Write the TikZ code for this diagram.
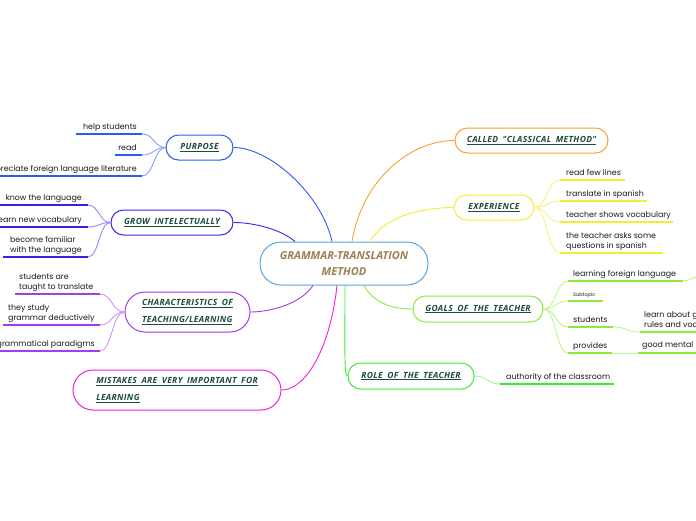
\documentclass[tikz,border=0pt]{standalone}
\usepackage{fontspec}
\setmainfont{Poppins}
\newfontfamily\topicfont[LetterSpace=4,WordSpace=1.8]{Open Sans}
\newfontfamily\centerfont{Open Sans}
\usetikzlibrary{calc}
\definecolor{cblue}{HTML}{2A5CF0}
\definecolor{cbluel}{HTML}{82A3F7}
\definecolor{cindigo}{HTML}{3C22E6}
\definecolor{cindigol}{HTML}{9A8AF2}
\definecolor{cpurple}{HTML}{A63CE6}
\definecolor{cpurplel}{HTML}{CE98F2}
\definecolor{cmag}{HTML}{F020D8}
\definecolor{corange}{HTML}{F8A232}
\definecolor{cyellow}{HTML}{F2EE30}
\definecolor{cyellowl}{HTML}{F6F385}
\definecolor{clime}{HTML}{8CEB3A}
\definecolor{climel}{HTML}{C2F594}
\definecolor{cgreen}{HTML}{3DEB3D}
\definecolor{cgreenl}{HTML}{9CF59C}
\definecolor{ccenter}{HTML}{5AA5E0}
\definecolor{ctopic}{HTML}{1D4B3C}
\definecolor{cctext}{HTML}{9C7F52}
\definecolor{csub}{HTML}{1A1A1A}
\tikzset{
  mainnode/.style={draw=#1, line width=1pt, fill=white, rounded corners=12.5pt,
    minimum height=25pt, inner sep=2pt,
    font=\topicfont\bfseries\itshape\fontsize{8.5}{17}\selectfont, text=ctopic, align=left},
  subtext/.style={font=\fontsize{7.9}{9.5}\selectfont, inner sep=0pt,
    text depth=0pt, text=csub, align=left},
  uline/.style={draw=#1, line width=1.6pt},
  conn/.style={draw=#1, line width=0.9pt},
}
\begin{document}
\begin{tikzpicture}[x=1pt,y=-1pt]
\fill[white] (0,0) rectangle (696,520);
\useasboundingbox (0,0) rectangle (696,520);

% central node
\node[mainnode=ccenter, minimum width=168pt, minimum height=43pt, rounded corners=21pt,
  font=\centerfont\bfseries\itshape\fontsize{11}{15.5}\selectfont, text=cctext, align=center]
  (C) at (344,263.5) {GRAMMAR-TRANSLATION\\METHOD};

% main topics
\node[mainnode=cblue, minimum width=67pt] (PUR) at (199.5,147.5) {\underline{PURPOSE}};
\node[mainnode=cindigo, minimum width=122pt] (GROW) at (172,222.5) {\underline{GROW INTELECTUALLY}};
\node[mainnode=cpurple, minimum width=125pt, minimum height=40pt, rounded corners=20pt]
  (CHAR) at (187.5,312) {\underline{CHARACTERISTICS OF}\\\underline{TEACHING/LEARNING}};
\node[mainnode=cmag, minimum width=208pt, minimum height=40pt, rounded corners=20pt]
  (MIST) at (177,390) {\underline{MISTAKES ARE VERY IMPORTANT FOR}\\\underline{LEARNING}};
\node[mainnode=corange, minimum width=153pt] (CALL) at (531.5,140.5) {\underline{CALLED "CLASSICAL METHOD"}};
\node[mainnode=cyellow, minimum width=80pt] (EXP) at (494,207.5) {\underline{EXPERIENCE}};
\node[mainnode=clime, minimum width=130pt, minimum height=26pt] (GOAL) at (478,309) {\underline{GOALS OF THE TEACHER}};
\node[mainnode=cgreen, minimum width=126pt, minimum height=26pt] (ROLE) at (411,376) {\underline{ROLE OF THE TEACHER}};

% central connectors
\draw[conn=cblue] ($(C.north)+(-12,0)$) .. controls (322,195) and (270,147.5) .. (PUR.east);
\draw[conn=cindigo] ($(C.north)+(-49,0)$) .. controls (282,230) and (255,222.5) .. (GROW.east);
\draw[conn=cpurple] ($(C.south)+(-31,0)$) .. controls (300,305) and (268,312) .. (CHAR.east);
\draw[conn=cmag] ($(C.south)+(-7,0)$) .. controls (330,350) and (305,390) .. (MIST.east);
\draw[conn=corange] ($(C.north)+(8,0)$) .. controls (362,180) and (410,140.5) .. (CALL.west);
\draw[conn=cyellow] ($(C.north)+(26,0)$) .. controls (385,215) and (425,207.5) .. (EXP.west);
\draw[conn=clime] ($(C.south)+(20,0)$) .. controls (375,305) and (395,309) .. (GOAL.west);
\draw[conn=cgreen] ($(C.south)+(1,0)$) .. controls (345,350) and (344,376) .. (ROLE.west);

% PURPOSE subtopics
\coordinate (pu1) at (142,134); \coordinate (pu1e) at (76,134);
\coordinate (pu2) at (142,155); \coordinate (pu2e) at (115,155);
\coordinate (pu3) at (142,176); \coordinate (pu3e) at (-5,176);
\foreach \p in {pu1,pu2,pu3}{
  \draw[conn=cbluel] (PUR.west) .. controls (154,147.5) and (154,0|-\p) .. (\p);
  \draw[uline=cblue] (\p) -- (\p e);
}
\node[subtext, anchor=south east] (tpu1) at (137,129.5) {help students};
\node[subtext, anchor=south east] (tpu2) at (137,150.5) {read};
\node[subtext, anchor=south east] (tpu3) at (137,171.5) {appreciate foreign language literature};

% GROW subtopics
\coordinate (gr1) at (88,205); \coordinate (gr1e) at (-5,205);
\coordinate (gr2) at (88,227); \coordinate (gr2e) at (-5,227);
\coordinate (gr3) at (88,257); \coordinate (gr3e) at (3,257);
\foreach \p in {gr1,gr2,gr3}{
  \draw[conn=cindigol] (GROW.west) .. controls (99,222.5) and (99,0|-\p) .. (\p);
  \draw[uline=cindigo] (\p) -- (\p e);
}
\node[subtext, anchor=south east] (tgr1) at (82,200.5) {know the language};
\node[subtext, anchor=south east] (tgr2) at (82,222.5) {learn new vocabulary};
\node[subtext, anchor=south east] (tgr3) at (82,252.5) {become familiar\\with the language};

% CHARACTERISTICS subtopics
\coordinate (ch1) at (100,294); \coordinate (ch1e) at (15,294);
\coordinate (ch2) at (100,325); \coordinate (ch2e) at (3,325);
\coordinate (ch3) at (100,351); \coordinate (ch3e) at (-5,351);
\foreach \p in {ch1,ch2,ch3}{
  \draw[conn=cpurplel] (CHAR.west) .. controls (112,312) and (112,0|-\p) .. (\p);
  \draw[uline=cpurple] (\p) -- (\p e);
}
\node[subtext, anchor=south west] (tch1) at (19,289.5) {students are\\taught to translate};
\node[subtext, anchor=south west] (tch2) at (8,320.5) {they study\\grammar deductively};
\node[subtext, anchor=south east] (tch3) at (95,346.5) {grammatical paradigms};

% EXPERIENCE subtopics
\coordinate (ex1) at (560,180); \coordinate (ex1e) at (625,180);
\coordinate (ex2) at (560,201); \coordinate (ex2e) at (647,201);
\coordinate (ex3) at (560,222); \coordinate (ex3e) at (673,222);
\coordinate (ex4) at (560,253); \coordinate (ex4e) at (663,253);
\foreach \p in {ex1,ex2,ex3,ex4}{
  \draw[conn=cyellowl] (EXP.east) .. controls (547,207.5) and (547,0|-\p) .. (\p);
  \draw[uline=cyellow] (\p) -- (\p e);
}
\node[subtext, anchor=south west] (tex1) at (566,175.5) {read few lines};
\node[subtext, anchor=south west] (tex2) at (566,196.5) {translate in spanish};
\node[subtext, anchor=south west] (tex3) at (566,217.5) {teacher shows vocabulary};
\node[subtext, anchor=south west] (tex4) at (566,248.5) {the teacher asks some\\questions in spanish};

% GOALS subtopics
\coordinate (go1) at (568,281); \coordinate (go1e) at (683,281);
\coordinate (go2) at (568,301); \coordinate (go2e) at (603,301);
\coordinate (go3) at (568,327); \coordinate (go3e) at (613,327);
\coordinate (go4) at (568,353); \coordinate (go4e) at (612,353);
\foreach \p in {go1,go2,go3,go4}{
  \draw[conn=climel] (GOAL.east) .. controls (556,309) and (556,0|-\p) .. (\p);
  \draw[uline=clime] (\p) -- (\p e);
}
\coordinate (go1x) at (700,276);
\draw[conn=climel] (go1e) .. controls (690,281) and (692,277) .. (go1x);
\node[subtext, anchor=south west] (tgo1) at (573,276.5) {learning foreign language};
\node[subtext, anchor=south west, font=\fontsize{5}{6}\selectfont] (tgo2) at (573,297) {Subtopic};
\node[subtext, anchor=south west] (tgo3) at (573,322.5) {students};
\node[subtext, anchor=south west] (tgo4) at (573,348.5) {provides};

% sub-subtopics
\coordinate (ss1) at (640,332); \coordinate (ss1e) at (700,332);
\coordinate (ss2) at (638,353); \coordinate (ss2e) at (700,353);
\draw[conn=climel] (go3e) .. controls (627,327) and (626,332) .. (ss1);
\draw[uline=clime] (ss1) -- (ss1e);
\draw[conn=climel] (go4e) -- (ss2);
\draw[uline=clime] (ss2) -- (ss2e);
\node[subtext, anchor=south west] (tss1) at (644,327.5) {learn about grammar\\rules and vocabulary};
\node[subtext, anchor=south west] (tss2) at (642,347.5) {good mental};

% ROLE subtopic
\coordinate (ro1) at (500,384); \coordinate (ro1e) at (614,384);
\draw[conn=cgreenl] (ROLE.east) .. controls (487,376) and (487,384) .. (ro1);
\draw[uline=cgreen] (ro1) -- (ro1e);
\node[subtext, anchor=south west] (tro1) at (506,379.5) {authority of the classroom};
\end{tikzpicture}
\end{document}
